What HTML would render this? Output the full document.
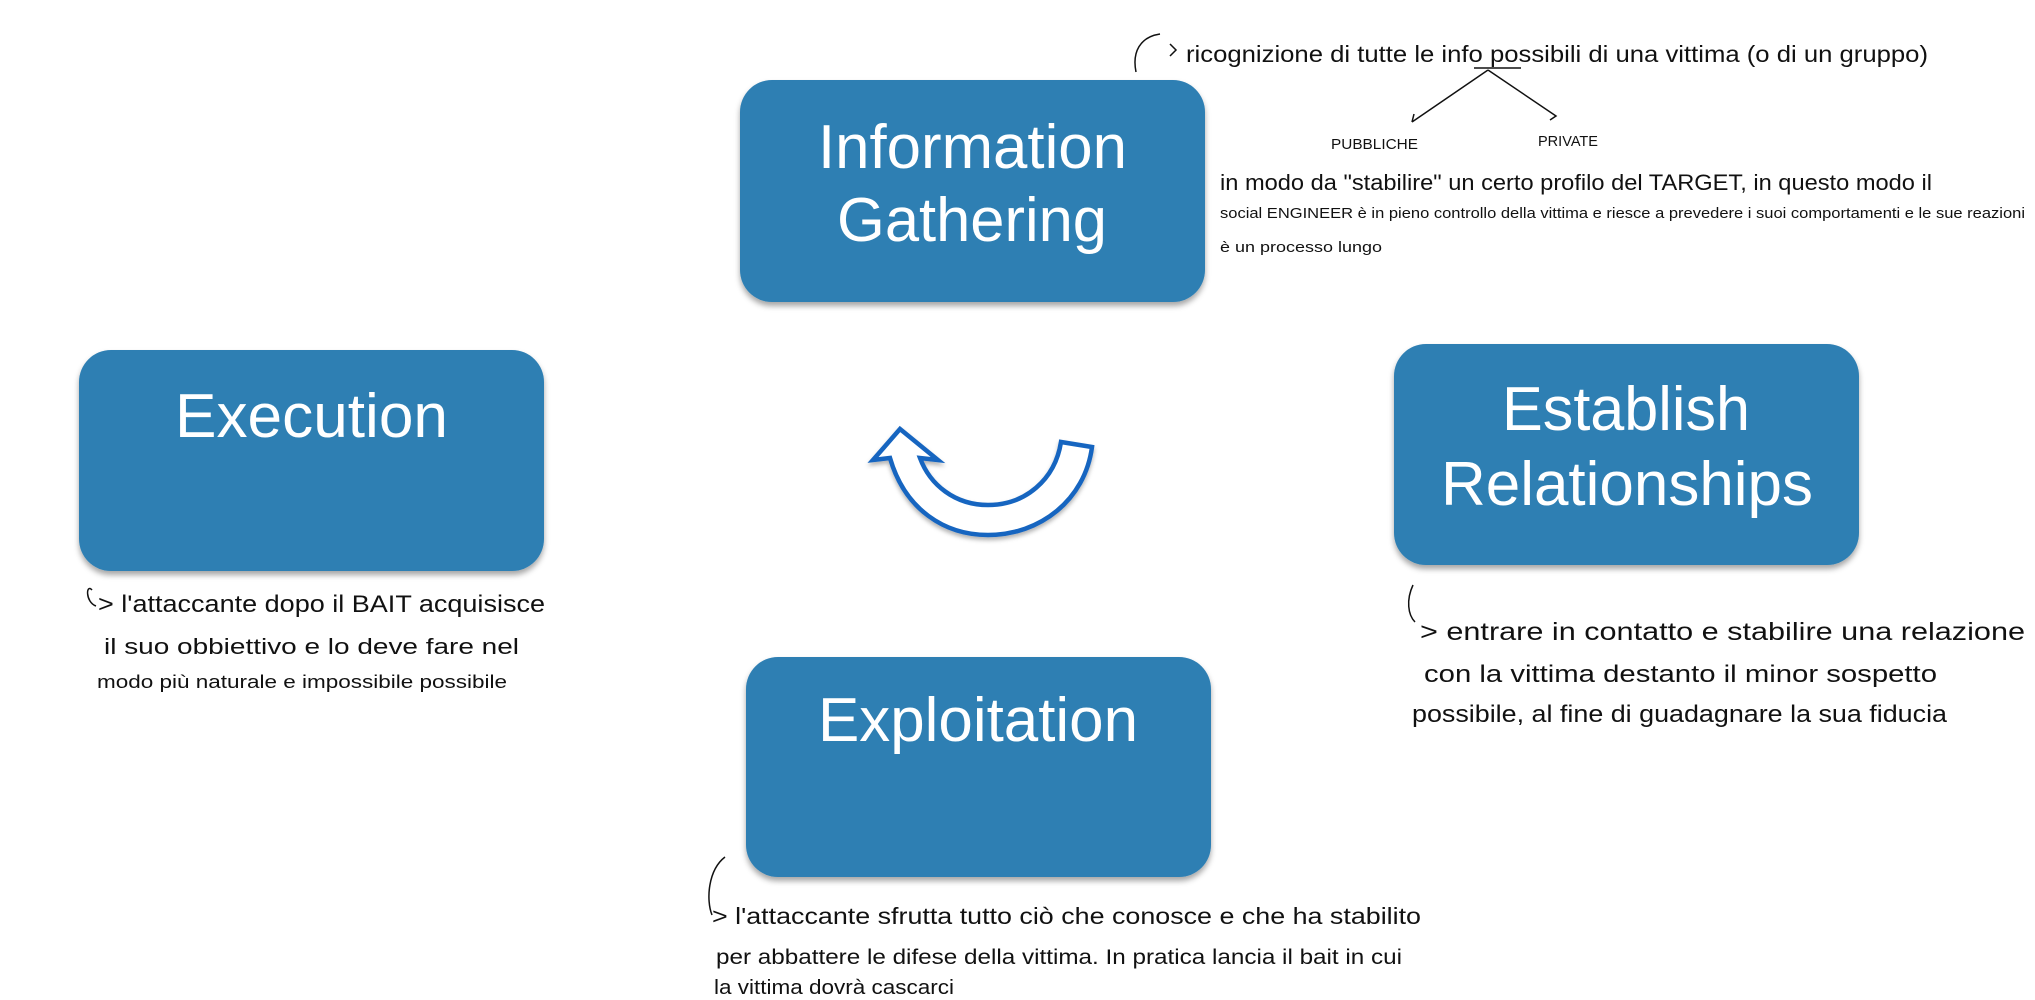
<!DOCTYPE html>
<html><head><meta charset="utf-8"><style>
html,body{margin:0;padding:0;background:#fff;width:2035px;height:1000px;overflow:hidden}
svg{display:block}
.box{fill:#2f7fb3}
.bt{font-family:"Liberation Sans",sans-serif;font-size:62px;fill:#fff;text-anchor:start}
.h{font-family:"Liberation Sans",sans-serif;fill:#111;font-weight:normal}
</style></head><body>
<svg width="2035" height="1000" viewBox="0 0 2035 1000" xmlns="http://www.w3.org/2000/svg">
<defs>
<filter id="sh" x="-10%" y="-10%" width="120%" height="130%"><feDropShadow dx="0" dy="4" stdDeviation="3" flood-color="#000" flood-opacity="0.35"/></filter>
<filter id="sh2" x="-10%" y="-10%" width="120%" height="130%"><feDropShadow dx="0" dy="3" stdDeviation="2" flood-color="#000" flood-opacity="0.3"/></filter>
</defs>
<rect class="box" x="740" y="80" width="465" height="222" rx="32" filter="url(#sh)"/>
<rect class="box" x="79" y="350" width="465" height="221" rx="32" filter="url(#sh)"/>
<rect class="box" x="1394" y="344" width="465" height="221" rx="32" filter="url(#sh)"/>
<rect class="box" x="746" y="657" width="465" height="220" rx="32" filter="url(#sh)"/>
<text class="bt" x="818" y="168" textLength="309" lengthAdjust="spacingAndGlyphs">Information</text>
<text class="bt" x="837" y="241" textLength="270" lengthAdjust="spacingAndGlyphs">Gathering</text>
<text class="bt" x="175" y="437" textLength="273" lengthAdjust="spacingAndGlyphs">Execution</text>
<text class="bt" x="1502" y="430" textLength="248" lengthAdjust="spacingAndGlyphs">Establish</text>
<text class="bt" x="1441" y="505" textLength="372" lengthAdjust="spacingAndGlyphs">Relationships</text>
<text class="bt" x="818" y="741" textLength="320" lengthAdjust="spacingAndGlyphs">Exploitation</text>
<path d="M890,458 C905,510 945,535 988,535 C1040,535 1085,500 1092,447 L1061,442 C1055,480 1025,505 988,505 C955,505 930,485 920,458 L938,460 L900,429 L873,460 Z" fill="#fff" stroke="#1565c0" stroke-width="4.5" stroke-linejoin="miter" filter="url(#sh2)"/>
<g stroke="#111" stroke-width="1.5" fill="none">
<path d="M1136,72 C1132,52 1140,37 1160,34"/>
<path d="M1170,44 l6,6 l-6,6"/>
<path d="M1474,68 L1521,68"/>
<path d="M1488,70 L1412,122 M1412,122 l2,-8 M1488,70 L1556,116 l-6,4"/>
<path d="M92,590 C86,583 85,602 96,606"/>
<path d="M1413,585 C1406,600 1408,615 1415,622"/>
<path d="M725,857 C708,870 706,900 712,915"/>
</g>
<text class="h" x="1186" y="62" font-size="23" textLength="742" lengthAdjust="spacingAndGlyphs">ricognizione di tutte le info possibili di una vittima (o di un gruppo)</text>
<text class="h" x="1331" y="149" font-size="15" textLength="87" lengthAdjust="spacingAndGlyphs">PUBBLICHE</text>
<text class="h" x="1538" y="146" font-size="15" textLength="60" lengthAdjust="spacingAndGlyphs">PRIVATE</text>
<text class="h" x="1220" y="190" font-size="22" textLength="712" lengthAdjust="spacingAndGlyphs">in modo da "stabilire" un certo profilo del TARGET, in questo modo il</text>
<text class="h" x="1220" y="218" font-size="15" textLength="805" lengthAdjust="spacingAndGlyphs">social ENGINEER è in pieno controllo della vittima e riesce a prevedere i suoi comportamenti e le sue reazioni</text>
<text class="h" x="1220" y="252" font-size="15" textLength="162" lengthAdjust="spacingAndGlyphs">è un processo lungo</text>
<text class="h" x="98" y="612" font-size="24" textLength="447" lengthAdjust="spacingAndGlyphs">> l'attaccante dopo il BAIT acquisisce</text>
<text class="h" x="104" y="654" font-size="22" textLength="415" lengthAdjust="spacingAndGlyphs">il suo obbiettivo e lo deve fare nel</text>
<text class="h" x="97" y="688" font-size="18" textLength="410" lengthAdjust="spacingAndGlyphs">modo più naturale e impossibile possibile</text>
<text class="h" x="1420" y="640" font-size="25" textLength="605" lengthAdjust="spacingAndGlyphs">> entrare in contatto e stabilire una relazione</text>
<text class="h" x="1424" y="682" font-size="24" textLength="513" lengthAdjust="spacingAndGlyphs">con la vittima destanto il minor sospetto</text>
<text class="h" x="1412" y="722" font-size="24" textLength="535" lengthAdjust="spacingAndGlyphs">possibile, al fine di guadagnare la sua fiducia</text>
<text class="h" x="712" y="924" font-size="23" textLength="709" lengthAdjust="spacingAndGlyphs">> l'attaccante sfrutta tutto ciò che conosce e che ha stabilito</text>
<text class="h" x="716" y="964" font-size="21" textLength="686" lengthAdjust="spacingAndGlyphs">per abbattere le difese della vittima. In pratica lancia il bait in cui</text>
<text class="h" x="714" y="994" font-size="20" textLength="240" lengthAdjust="spacingAndGlyphs">la vittima dovrà cascarci</text>
</svg>
</body></html>
